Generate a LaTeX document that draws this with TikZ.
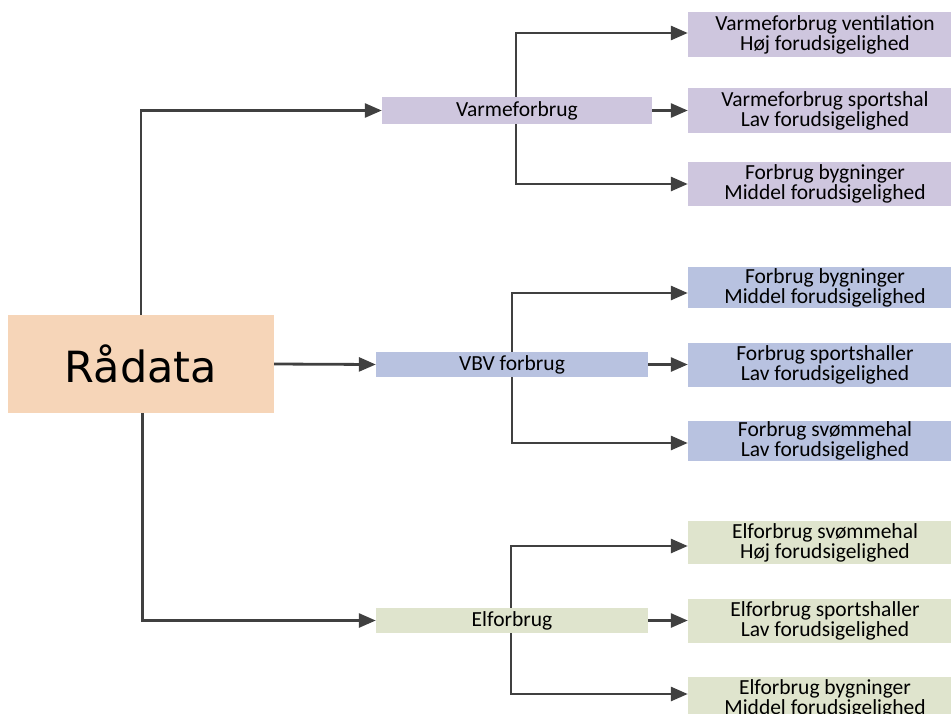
\documentclass[tikz,border=0pt]{standalone}
\usepackage{fontspec}
\setmainfont{Carlito}
\newfontfamily\radfont{DejaVu Sans}
\usetikzlibrary{arrows.meta}
\definecolor{peach}{HTML}{F6D5B8}
\definecolor{lav}{HTML}{CEC6DE}
\definecolor{vbvblue}{HTML}{B8C2E0}
\definecolor{elgreen}{HTML}{DFE4CD}
\definecolor{linegray}{HTML}{404040}
\tikzset{
  lbl/.style={inner sep=0pt, align=center, font=\fontsize{21.5}{20}\selectfont, text=black},
  midbox/.style={lbl, minimum width=272pt, minimum height=25pt},
  rbox/.style={lbl, minimum width=274pt},
  arr/.style={draw=linegray, line width=2.8pt, -{Triangle[length=17pt,width=14pt]}},
}
\begin{document}
\begin{tikzpicture}[x=1pt,y=-1pt]
\useasboundingbox (0,0) rectangle (951,713);
% root
\node[fill=peach, minimum width=266pt, minimum height=98pt, inner sep=0pt, font=\radfont\fontsize{43}{46}\selectfont] (rad) at (141,364) {Rådata};
% middle
\node[midbox, fill=lav, minimum width=270pt, minimum height=27pt] (varme) at (517,110.5) {Varmeforbrug};
\node[midbox, fill=vbvblue] (vbv) at (512,364.5) {VBV forbrug};
\node[midbox, fill=elgreen] (el) at (512,620.5) {Elforbrug};
% right group 1
\node[rbox, fill=lav, minimum height=45pt] (v1) at (825,34.5) {Varmeforbrug ventilation\\Høj forudsigelighed};
\node[rbox, fill=lav, minimum height=45pt] (v2) at (825,110.5) {Varmeforbrug sportshal\\Lav forudsigelighed};
\node[rbox, fill=lav, minimum height=44pt] (v3) at (825,184) {Forbrug bygninger\\Middel forudsigelighed};
% right group 2
\node[rbox, fill=vbvblue, minimum height=41pt] (b1) at (825,287.5) {Forbrug bygninger\\Middel forudsigelighed};
\node[rbox, fill=vbvblue, minimum height=44pt] (b2) at (825,364.5) {Forbrug sportshaller\\Lav forudsigelighed};
\node[rbox, fill=vbvblue, minimum height=40pt] (b3) at (825,441) {Forbrug svømmehal\\Lav forudsigelighed};
% right group 3
\node[rbox, fill=elgreen, minimum height=43pt] (e1) at (825,542.5) {Elforbrug svømmehal\\Høj forudsigelighed};
\node[rbox, fill=elgreen, minimum height=44pt] (e2) at (825,620.5) {Elforbrug sportshaller\\Lav forudsigelighed};
\node[rbox, fill=elgreen, minimum height=44pt] (e3) at (825,699) {Elforbrug bygninger\\Middel forudsigelighed};
% connectors from root
\draw[arr] (rad.north) |- (varme.west);
\draw[arr] (rad.east) -- (vbv.west);
\draw[arr] ([xshift=1.5pt]rad.south) |- (el.west);
% varme branches
\draw[arr] ([xshift=-1pt]varme.north) |- ([yshift=1.5pt]v1.west);
\draw[arr] (varme.east) -- (v2.west);
\draw[arr] ([xshift=-1pt]varme.south) |- (v3.west);
% vbv branches
\draw[arr] (vbv.north) |- ([yshift=-5.5pt]b1.west);
\draw[arr] (vbv.east) -- (b2.west);
\draw[arr] (vbv.south) |- ([yshift=-2pt]b3.west);
% el branches
\draw[arr] ([xshift=-1pt]el.north) |- ([yshift=-3.5pt]e1.west);
\draw[arr] (el.east) -- (e2.west);
\draw[arr] ([xshift=-1pt]el.south) |- ([yshift=5pt]e3.west);
\end{tikzpicture}
\end{document}
